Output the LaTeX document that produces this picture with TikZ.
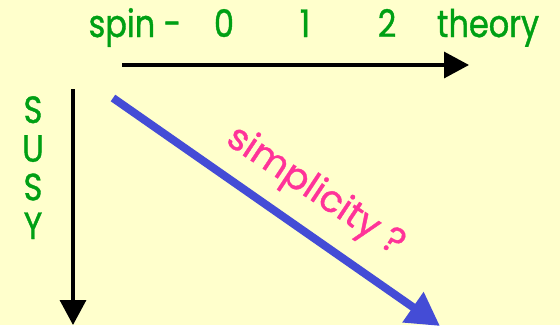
\documentclass[tikz,border=0pt]{standalone}
\usepackage{fontspec}
\setmainfont{Poppins}[FakeBold=1]
\newfontfamily\narrowgeo{Poppins}[FakeStretch=0.84, FakeBold=1]
\usetikzlibrary{positioning, arrows.meta}
\definecolor{paleyellow}{RGB}{255, 255, 204}
\definecolor{labelgreen}{RGB}{0, 160, 20}
\definecolor{arrowblue}{RGB}{68, 76, 214}
\definecolor{labelpink}{RGB}{255, 51, 153}

\begin{document}
\begin{tikzpicture}[x=1pt, y=-1pt,
      axislabel/.style={text=labelgreen, font=\narrowgeo\fontsize{38}{38}\selectfont, inner sep=0pt, anchor=base},
      axisarrow/.style={-{Triangle[length=25pt, width=26pt]}, line width=3.3pt, black},
      diagarrow/.style={-{Triangle[length=33pt, width=35pt]}, line width=8pt, arrowblue}
    ]
      \fill[paleyellow] (0,0) rectangle (560,325);
      \useasboundingbox (0,0) rectangle (560,325);

      % top axis labels
      \node[axislabel] (spin) at (135,37) {spin -};
      \node[axislabel] (zero) at (224,37) {0};
      \node[axislabel] (one) at (305,37) {1};
      \node[axislabel] (two) at (387,37) {2};
      \node[axislabel] (theory) at (488,37) {theory};

      % left axis labels
      \node[axislabel] (s1) at (33,123) {S};
      \node[axislabel] (u) at (33,161.7) {U};
      \node[axislabel] (s2) at (33,200.3) {S};
      \node[axislabel] (y) at (33,239) {Y};

      \coordinate (hstart) at (122,65);
      \coordinate (hend) at (469,65);
      \coordinate (vstart) at (73,89);
      \coordinate (vend) at (73,325);
      \coordinate (dstart) at (113,98);
      \coordinate (dend) at (440,326);

      \draw[axisarrow] (hstart) -- (hend);
      \draw[axisarrow] (vstart) -- (vend);
      \draw[diagarrow] (dstart) -- (dend);

      \node[text=labelpink, font=\fontsize{37}{37}\selectfont, rotate=-33.5, inner sep=0pt] (simplicity) at (315,192) {simplicity ?};
    \end{tikzpicture}
\end{document}
